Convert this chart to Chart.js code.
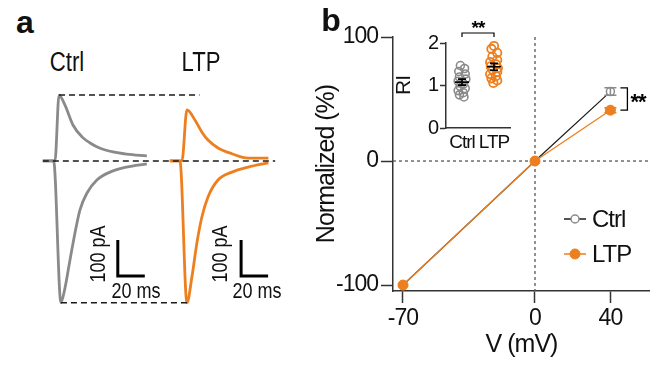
<!DOCTYPE html>
<html><head><meta charset="utf-8">
<script src="https://cdn.jsdelivr.net/npm/chart.js@4.4.0/dist/chart.umd.min.js"></script>
<style>
html,body{margin:0;padding:0;background:#fff;}
#wrap{position:relative;width:650px;height:366px;overflow:hidden;font-family:'Liberation Sans',Arial,sans-serif;color:#111;}
canvas{position:absolute;}
.t{position:absolute;white-space:nowrap;line-height:1;transform:translate(-50%,-50%) scaleX(0.82);}
.r{transform:translate(-50%,-50%) rotate(-90deg) scaleX(0.82);}
.L{font-weight:bold;font-size:32px;transform:translate(-50%,-50%);}
</style></head><body>
<div id="wrap">
<canvas id="ca" width="260" height="240" style="left:30px;top:80px"></canvas>
<canvas id="cb" width="350" height="366" style="left:300px;top:0px"></canvas>
<canvas id="ci" width="140" height="140" style="left:380px;top:15px"></canvas>
<div class="t L" style="left:25px;top:22px">a</div>
<div class="t L" style="left:331px;top:20px">b</div>
<div class="t" style="left:67px;top:62px;font-size:27px">Ctrl</div>
<div class="t" style="left:201px;top:62px;font-size:27px">LTP</div>
<div class="t r" style="left:98px;top:254px;font-size:22px">100 pA</div>
<div class="t" style="left:136px;top:291px;font-size:22px">20 ms</div>
<div class="t r" style="left:220px;top:254px;font-size:22px">100 pA</div>
<div class="t" style="left:257px;top:291px;font-size:22px">20 ms</div>
</div>
<script>
// ---------- Panel a: current traces (time in ms, current in pA) ----------
const ctrlOutT = [-9, 0, 3, 7.4, 13.3, 20, 26, 33, 43, 53, 68];
const ctrlOutI = [0, 0, 183, 155, 100, 67, 50, 36, 25, 19, 14];
const ctrlInT  = [-9, -1, 4.4, 7.4, 11.1, 14.8, 18.5, 23.7, 31, 40.7, 53, 68];
const ctrlInI  = [0, 0, -394, -353, -275, -200, -136, -89, -53, -31, -17, -8];
const ltpOutT  = [-9, 0, 3.7, 9.6, 14.8, 19.3, 26.7, 37, 49, 64];
const ltpOutI  = [0, 0, 142, 114, 80, 58, 36, 20, 8, 8];
const ltpInT   = [-9, -1.5, 3.7, 7.4, 11.1, 14.8, 19.3, 26.7, 37, 49, 64];
const ltpInI   = [0, 0, -394, -322, -227, -155, -100, -53, -31, -17, -5];
const scaleBarPA = 100, scaleBarMS = 20;

// ---------- Panel b: normalized I-V ----------
const vSteps   = [-70, 0, 40];
const ctrlNorm = [-100, 0, 56];
const ctrlSem  = [0, 0, 3];
const ltpNorm  = [-100, 0, 41];
const ltpSem   = [0, 0, 2];
const normTicks = [-100, 0, 100];
const vTicks    = [-70, 0, 40];
const seriesNames = ['Ctrl', 'LTP'];

// ---------- Inset: rectification index ----------
const riGroups = ['Ctrl', 'LTP'];
const riCtrl = [1.47, 1.40, 1.33, 1.27, 1.20, 1.15, 1.10, 1.04, 0.98, 0.93, 0.88, 0.83, 0.78, 0.73];
const riCtrlJit = [-0.05, 0.08, -0.1, 0.1, -0.08, 0.12, -0.12, 0.05, -0.06, 0.1, -0.12, 0.04, -0.08, 0.06];
const riLtp = [1.93, 1.86, 1.77, 1.68, 1.60, 1.55, 1.50, 1.45, 1.41, 1.37, 1.32, 1.27, 1.22, 1.17, 1.12, 1.06];
const riLtpJit = [0.0, -0.08, 0.1, -0.05, 0.1, -0.12, 0.06, -0.1, 0.12, -0.04, 0.1, -0.12, 0.06, -0.08, 0.1, -0.02];
const riMean = [1.08, 1.44];
const riSem  = [0.07, 0.08];
const riTicks = [0, 1, 2];

const GRAY = '#8a8a8a', ORANGE = '#EE7F1E', BLACK = '#1a1a1a';
const FONT = "'Liberation Sans',Arial,sans-serif";
const tightText = {id: 'tightText', beforeDraw(chart) { chart.ctx.letterSpacing = '-1px'; }};

// ===== Panel a =====
const ltpOffset = 94;
const pts = (T, I, off) => T.map((t, i) => ({x: t + off, y: I[i]}));
const maxOut = Math.max(...ctrlOutI), tMax = ctrlOutT[ctrlOutI.indexOf(maxOut)];
const minIn = Math.min(...ctrlInI), tMin = ctrlInT[ctrlInI.indexOf(minIn)];
const ltpMinT = ltpInT[ltpInI.indexOf(Math.min(...ltpInI))] + ltpOffset;
const bar = (x0, y0) => [{x: x0, y: y0 + scaleBarPA}, {x: x0, y: y0}, {x: x0 + scaleBarMS, y: y0}];
const traceDs = (data, color) => ({data, borderColor: color, borderWidth: 2.8, pointRadius: 0, cubicInterpolationMode: 'monotone', fill: false});
const dashDs = data => ({data, borderColor: BLACK, borderWidth: 1.5, borderDash: [6, 4], pointRadius: 0, fill: false});
new Chart(document.getElementById('ca'), {
  type: 'line',
  data: { datasets: [
    dashDs([{x: tMax, y: maxOut}, {x: 107, y: maxOut}]),
    dashDs([{x: -9, y: 0}, {x: 163, y: 0}]),
    dashDs([{x: tMin, y: minIn}, {x: ltpMinT, y: minIn}]),
    {data: bar(46.5, -320), borderColor: '#000', borderWidth: 3, pointRadius: 0, fill: false, borderCapStyle: 'butt', borderJoinStyle: 'miter'},
    {data: bar(ltpOffset + 43.8, -320), borderColor: '#000', borderWidth: 3, pointRadius: 0, fill: false, borderCapStyle: 'butt', borderJoinStyle: 'miter'},
    traceDs(pts(ltpOutT, ltpOutI, ltpOffset), ORANGE),
    traceDs(pts(ltpInT, ltpInI, ltpOffset), ORANGE),
    traceDs(pts(ctrlOutT, ctrlOutI, 0), GRAY),
    traceDs(pts(ctrlInT, ctrlInI, 0), GRAY),
  ]},
  options: {
    responsive: false, animation: false, clip: false,
    layout: {padding: 0, autoPadding: false},
    plugins: {legend: {display: false}, tooltip: {enabled: false}},
    scales: {
      x: {type: 'linear', display: false, min: -18.5, max: 174},
      y: {type: 'linear', display: false, min: -442, max: 225}
    }
  }
});

// ===== Panel b main =====
const mainPlugin = {
  id: 'mainExtras',
  beforeDatasetsDraw(chart) {
    const {ctx, chartArea: a, scales: {x, y}} = chart;
    ctx.save();
    ctx.strokeStyle = '#555'; ctx.lineWidth = 1.3; ctx.setLineDash([3, 3]);
    const y0 = y.getPixelForValue(0), x0 = x.getPixelForValue(0);
    ctx.beginPath(); ctx.moveTo(a.left, y0); ctx.lineTo(a.right, y0); ctx.stroke();
    ctx.beginPath(); ctx.moveTo(x0, a.top); ctx.lineTo(x0, a.bottom); ctx.stroke();
    ctx.restore();
  },
  afterDatasetsDraw(chart) {
    const {ctx, scales: {x, y}} = chart;
    ctx.save();
    const eb = (vals, sems, color) => {
      ctx.strokeStyle = color; ctx.lineWidth = 1.5;
      vals.forEach((v, i) => {
        if (!sems[i]) return;
        const px = x.getPixelForValue(vSteps[i]);
        const t = y.getPixelForValue(v + sems[i]), b = y.getPixelForValue(v - sems[i]);
        ctx.beginPath();
        ctx.moveTo(px, t); ctx.lineTo(px, b);
        ctx.moveTo(px - 6, t); ctx.lineTo(px + 6, t);
        ctx.moveTo(px - 6, b); ctx.lineTo(px + 6, b);
        ctx.stroke();
      });
    };
    eb(ctrlNorm, ctrlSem, GRAY);
    eb(ltpNorm, ltpSem, ORANGE);
    // significance bracket
    const i = 2;
    const bx = x.getPixelForValue(vSteps[i]) + 17;
    const ty = y.getPixelForValue(ctrlNorm[i] + ctrlSem[i]);
    const by = y.getPixelForValue(ltpNorm[i]);
    ctx.strokeStyle = '#000'; ctx.lineWidth = 1.3;
    ctx.beginPath(); ctx.moveTo(bx - 7, ty); ctx.lineTo(bx, ty); ctx.lineTo(bx, by); ctx.lineTo(bx - 7, by); ctx.stroke();
    ctx.fillStyle = '#000'; ctx.font = 'bold 22px ' + FONT; ctx.textBaseline = 'middle'; ctx.textAlign = 'left';
    ctx.fillText('**', bx + 3, (ty + by) / 2 + 4);
    // legend
    const ds = chart.data.datasets;
    const order = [1, 0];
    order.forEach((di, k) => {
      const d = ds[di];
      const ly = 219 + k * 35, lx = 264;
      ctx.strokeStyle = d.borderColor; ctx.lineWidth = 1.5;
      ctx.beginPath(); ctx.moveTo(lx, ly); ctx.lineTo(lx + 22, ly); ctx.stroke();
      ctx.beginPath(); ctx.arc(lx + 11, ly, d.pointRadius, 0, Math.PI * 2);
      ctx.fillStyle = d.pointBackgroundColor; ctx.fill();
      ctx.strokeStyle = d.pointBorderColor; ctx.lineWidth = d.pointBorderWidth; ctx.stroke();
      ctx.fillStyle = '#111'; ctx.font = '24px ' + FONT; ctx.textAlign = 'left'; ctx.textBaseline = 'middle';
      ctx.fillText(d.label, lx + 28, ly + 1);
    });
    ctx.restore();
  }
};
const axisFont = {family: FONT, size: 23};
new Chart(document.getElementById('cb'), {
  type: 'line',
  data: { datasets: [
    {label: seriesNames[1], data: vSteps.map((v, i) => ({x: v, y: ltpNorm[i]})), borderColor: ORANGE, borderWidth: 1.3,
     pointRadius: 5, pointBackgroundColor: ORANGE, pointBorderColor: ORANGE, pointBorderWidth: 1, tension: 0},
    {label: seriesNames[0], data: vSteps.map((v, i) => ({x: v, y: ctrlNorm[i]})), borderColor: BLACK, borderWidth: 1.2,
     pointRadius: 4, pointBackgroundColor: '#fff', pointBorderColor: GRAY, pointBorderWidth: 1.5, tension: 0},
  ]},
  options: {
    responsive: false, animation: false, clip: false,
    layout: {padding: {top: 37, right: 0, left: 0, bottom: 0}, autoPadding: false},
    plugins: {legend: {display: false}, tooltip: {enabled: false}},
    scales: {
      x: {type: 'linear', min: -75.3, max: 61,
          afterFit: s => { s.height = 75; },
          afterBuildTicks: s => { s.ticks = vTicks.map(v => ({value: v})); },
          grid: {drawOnChartArea: false, drawTicks: true, tickLength: 12, tickColor: '#333', tickWidth: 1.5},
          border: {display: true, color: '#333', width: 1.5},
          ticks: {color: '#111', font: axisFont, padding: 2, maxRotation: 0},
          title: {display: true, text: 'V (mV)', color: '#111', font: {family: FONT, size: 25}, padding: {top: 0, bottom: 6}}},
      y: {type: 'linear', min: -104.8, max: 100,
          afterFit: s => { s.width = 93; },
          afterBuildTicks: s => { s.ticks = normTicks.map(v => ({value: v})); },
          grid: {drawOnChartArea: false, drawTicks: true, tickLength: 12, tickColor: '#333', tickWidth: 1.5},
          border: {display: true, color: '#333', width: 1.5},
          ticks: {color: '#111', font: axisFont, padding: 3},
          title: {display: true, text: 'Normalized (%)', color: '#111', font: {family: FONT, size: 25}, padding: {top: 12, bottom: 12}}}
    }
  },
  plugins: [tightText, mainPlugin]
});

// ===== Inset =====
const insetPlugin = {
  id: 'insetExtras',
  afterDatasetsDraw(chart) {
    const {ctx, scales: {x, y}} = chart;
    ctx.save();
    ctx.strokeStyle = '#000'; ctx.lineWidth = 1.6;
    riMean.forEach((m, i) => {
      const px = x.getPixelForValue(i + 1);
      const pm = y.getPixelForValue(m), pt = y.getPixelForValue(m + riSem[i]), pb = y.getPixelForValue(m - riSem[i]);
      ctx.beginPath();
      ctx.moveTo(px - 7, pm); ctx.lineTo(px + 7, pm);
      ctx.moveTo(px, pt); ctx.lineTo(px, pb);
      ctx.moveTo(px - 4, pt); ctx.lineTo(px + 4, pt);
      ctx.moveTo(px - 4, pb); ctx.lineTo(px + 4, pb);
      ctx.stroke();
    });
    const x1 = x.getPixelForValue(1), x2 = x.getPixelForValue(2), by = 18;
    ctx.lineWidth = 1.2;
    ctx.beginPath(); ctx.moveTo(x1, by + 4); ctx.lineTo(x1, by); ctx.lineTo(x2, by); ctx.lineTo(x2, by + 4); ctx.stroke();
    ctx.fillStyle = '#000'; ctx.font = 'bold 19px ' + FONT; ctx.textAlign = 'center'; ctx.textBaseline = 'middle';
    ctx.fillText('**', (x1 + x2) / 2, by - 4);
    ctx.restore();
  }
};
const smallFont = {family: FONT, size: 20};
new Chart(document.getElementById('ci'), {
  type: 'scatter',
  data: { datasets: [
    {data: riCtrl.map((v, i) => ({x: 1 + riCtrlJit[i], y: v})), pointRadius: 4, pointBackgroundColor: 'rgba(255,255,255,0)',
     pointBorderColor: GRAY, pointBorderWidth: 1.6},
    {data: riLtp.map((v, i) => ({x: 2 + riLtpJit[i], y: v})), pointRadius: 4.2, pointBackgroundColor: 'rgba(255,255,255,0)',
     pointBorderColor: ORANGE, pointBorderWidth: 1.8},
  ]},
  options: {
    responsive: false, animation: false, clip: false,
    layout: {padding: {top: 28, right: 10, left: 0, bottom: 0}, autoPadding: false},
    plugins: {legend: {display: false}, tooltip: {enabled: false}},
    scales: {
      x: {type: 'linear', min: 0.5, max: 2.5,
          afterFit: s => { s.height = 27; },
          afterBuildTicks: s => { s.ticks = riGroups.map((g, i) => ({value: i + 1})); },
          grid: {display: true, drawOnChartArea: false, drawTicks: false},
          border: {display: true, color: '#333', width: 1.5},
          ticks: {color: '#111', font: {family: FONT, size: 19}, padding: 3, maxRotation: 0, callback: (v) => riGroups[v - 1]}},
      y: {type: 'linear', min: 0, max: 2,
          afterFit: s => { s.width = 66; },
          afterBuildTicks: s => { s.ticks = riTicks.map(v => ({value: v})); },
          grid: {drawOnChartArea: false, drawTicks: true, tickLength: 6, tickColor: '#333', tickWidth: 1.5},
          border: {display: true, color: '#333', width: 1.5},
          ticks: {color: '#111', font: smallFont, padding: 2},
          title: {display: true, text: 'RI', color: '#111', font: {family: FONT, size: 21}, padding: {top: 12, bottom: 12}}}
    }
  },
  plugins: [tightText, insetPlugin]
});
</script>
</body></html>
